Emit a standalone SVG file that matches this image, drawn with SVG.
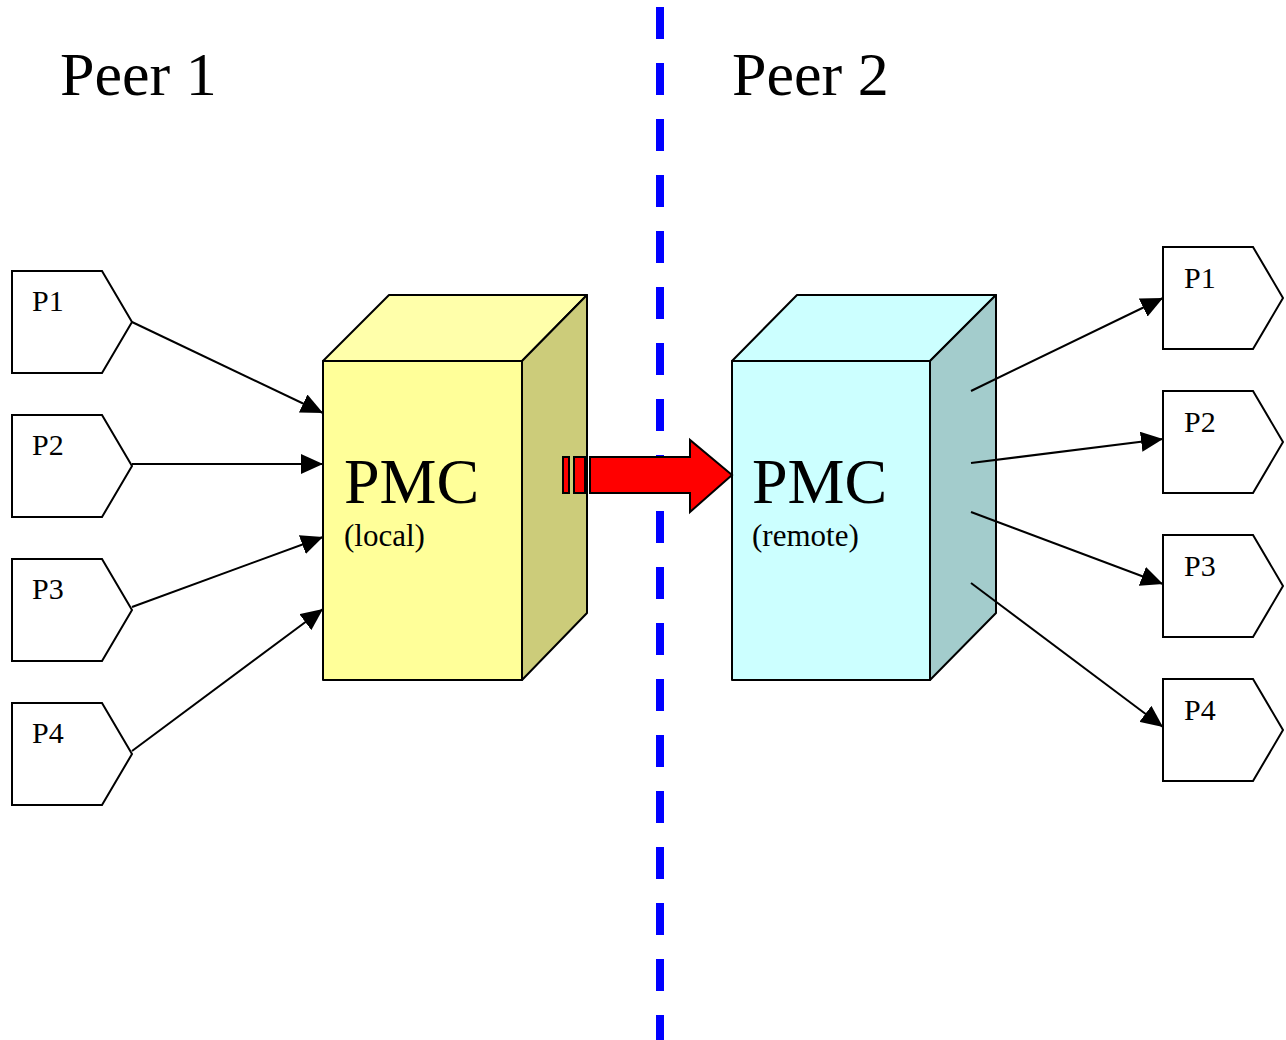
<svg xmlns="http://www.w3.org/2000/svg" width="1286" height="1040" viewBox="0 0 1286 1040">
<style>
.pent{fill:#fff;stroke:#000;stroke-width:2}
.lbl{font-family:"Liberation Serif",serif;font-size:30px;fill:#000}
.title{font-family:"Liberation Serif",serif;font-size:62px;fill:#000}
.big{font-family:"Liberation Serif",serif;font-size:64px;fill:#000}
.sub{font-family:"Liberation Serif",serif;font-size:31px;fill:#000}
.edge{stroke:#000;stroke-width:2;fill:none;marker-end:url(#ah)}
.box{stroke:#000;stroke-width:2;stroke-linejoin:round}
</style>
<defs>
<marker id="ah" markerUnits="userSpaceOnUse" markerWidth="23" markerHeight="20" refX="22" refY="10" orient="auto">
<path d="M0,0 L22,10 L0,20 Z" fill="#000"/>
</marker>
</defs>
<rect width="1286" height="1040" fill="#fff"/>
<line x1="660" y1="7" x2="660" y2="1040" stroke="#0000ff" stroke-width="8" stroke-dasharray="32 24"/>
<text class="title" x="60" y="95">Peer 1</text>
<text class="title" x="732" y="95">Peer 2</text>
<g id="lp1"><path class="pent" d="M12,271 H102 L132,322 L102,373 H12 Z"/><text class="lbl" x="32" y="311">P1</text></g>
<g id="lp2"><path class="pent" d="M12,415 H102 L132,466 L102,517 H12 Z"/><text class="lbl" x="32" y="455">P2</text></g>
<g id="lp3"><path class="pent" d="M12,559 H102 L132,610 L102,661 H12 Z"/><text class="lbl" x="32" y="599">P3</text></g>
<g id="lp4"><path class="pent" d="M12,703 H102 L132,754 L102,805 H12 Z"/><text class="lbl" x="32" y="743">P4</text></g>
<g id="pmc-local">
<path class="box" d="M323,361 L389,295 H587 L522,361 Z" fill="#ffffaa"/>
<path class="box" d="M522,361 L587,295 V613 L522,680 Z" fill="#cccc7a"/>
<rect class="box" x="323" y="361" width="199" height="319" fill="#ffff99"/>
<text class="big" x="344" y="503">PMC</text>
<text class="sub" x="344" y="546">(local)</text>
</g>
<g id="pmc-remote">
<path class="box" d="M732,361 L797,295 H996 L930,361 Z" fill="#ccffff"/>
<path class="box" d="M930,361 L996,295 V613 L930,680 Z" fill="#a3cccc"/>
<rect class="box" x="732" y="361" width="198" height="319" fill="#ccffff"/>
<text class="big" x="752" y="503">PMC</text>
<text class="sub" x="752" y="546">(remote)</text>
</g>
<g id="rp1"><path class="pent" d="M1163,247 H1253 L1283,298 L1253,349 H1163 Z"/><text class="lbl" x="1184" y="288">P1</text></g>
<g id="rp2"><path class="pent" d="M1163,391 H1253 L1283,442 L1253,493 H1163 Z"/><text class="lbl" x="1184" y="432">P2</text></g>
<g id="rp3"><path class="pent" d="M1163,535 H1253 L1283,586 L1253,637 H1163 Z"/><text class="lbl" x="1184" y="576">P3</text></g>
<g id="rp4"><path class="pent" d="M1163,679 H1253 L1283,730 L1253,781 H1163 Z"/><text class="lbl" x="1184" y="720">P4</text></g>
<g id="transfer">
<rect x="563" y="457" width="6" height="36" fill="#ff0000" stroke="#000" stroke-width="2"/>
<rect x="574" y="457" width="11" height="36" fill="#ff0000" stroke="#000" stroke-width="2"/>
<path d="M590,457 H690 V440 L732,475 L690,512 V493 H590 Z" fill="#ff0000" stroke="#000" stroke-width="2" stroke-linejoin="miter"/>
</g>
<g id="connectors">
<line class="edge" x1="132" y1="322" x2="323" y2="413"/>
<line class="edge" x1="132" y1="464" x2="323" y2="464"/>
<line class="edge" x1="132" y1="607" x2="323" y2="537"/>
<line class="edge" x1="132" y1="751" x2="323" y2="609"/>
<line class="edge" x1="971" y1="391" x2="1163" y2="298"/>
<line class="edge" x1="971" y1="463" x2="1163" y2="439"/>
<line class="edge" x1="971" y1="512" x2="1163" y2="584"/>
<line class="edge" x1="971" y1="583" x2="1163" y2="727"/>
</g>
</svg>
